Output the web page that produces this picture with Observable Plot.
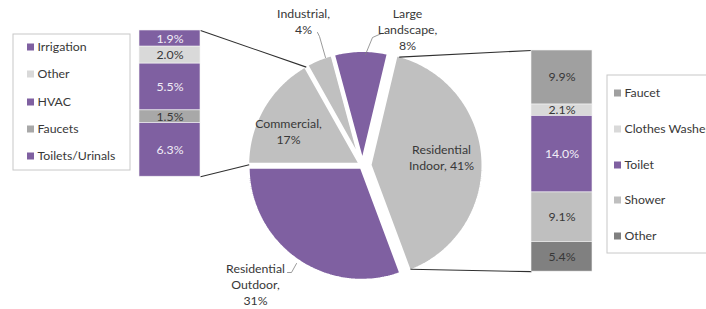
<!DOCTYPE html>
<html><head><meta charset="utf-8">
<script src="https://cdn.jsdelivr.net/npm/d3@7"></script>
<script src="https://cdn.jsdelivr.net/npm/@observablehq/plot@0.6"></script>
<style>body{margin:0;background:#fff;} svg{display:block;}</style>
</head><body><div id="chart"></div>
<script>
// ---- data ----
const pieNames = ["Residential Indoor", "Residential Outdoor", "Commercial", "Industrial", "Large Landscape"];
const pieValues = [41, 31, 17, 4, 8];
const pieLabelText = ["Residential\nIndoor, 41%", "Residential\nOutdoor,\n31%", "Commercial,\n17%", "Industrial,\n4%", "Large\nLandscape,\n8%"];

const commCats = ["Irrigation", "Other", "HVAC", "Faucets", "Toilets/Urinals"];
const commValues = [1.9, 2.0, 5.5, 1.5, 6.3];

const resCats = ["Faucet", "Clothes Washer", "Toilet", "Shower", "Other"];
const resValues = [9.9, 2.1, 14.0, 9.1, 5.4];

// ---- styles ----
const PURPLE = "#7f60a1";
const pieColors = ["#c0c0c0", PURPLE, "#c0c0c0", "#c0c0c0", PURPLE];
const commColors = [PURPLE, "#d9d9d9", PURPLE, "#a8a8a8", PURPLE];
const resColors = ["#a0a0a0", "#d9d9d9", PURPLE, "#bfbfbf", "#808080"];
const TEXT = "#383838";
const LIGHTTEXT = "#f2eef7";
const FONT = "Lato, 'Liberation Sans', sans-serif";
const FS = 12.3;

// ---- layout ----
const W = 706, H = 309;
const cx = 362, cy = 165, R = 114, startDeg = 13.4;
const explode = [7, 1.5, 1.5, 1.5, 1.5];
const pieLabelPos = [[441, 149], [255, 268], [288, 123], [303, 13], [407, 13]];
const leaders = [
  [[296, 263], [291, 272], [287, 272]],
  [[325, 57], [319, 36], [317, 32]],
  [[365, 54], [372, 37], [381, 33]]
];
const commBar = {x1: 139, x2: 200, top: 30, k: 8.5};
const resBar = {x1: 531, x2: 592, top: 50, k: 5.46};
const commLegend = {x1: 13, x2: 130, y1: 34, y2: 170, sx: 27, ys: [47, 74, 102, 129, 156]};
const resLegend = {x1: 607, x2: 720, y1: 75, y2: 253, sx: 614, ys: [93, 129, 165, 200, 236]};

// ---- pie geometry from data ----
const total = d3.sum(pieValues);
const rad = d => d * Math.PI / 180;
const pt = (a, r, ox, oy) => ({x: cx + ox + r * Math.sin(rad(a)), y: cy + oy - r * Math.cos(rad(a))});
let acc = 0;
const slices = pieValues.map((v, i) => {
  const a0 = startDeg + acc / total * 360; acc += v;
  const a1 = startDeg + acc / total * 360;
  const am = (a0 + a1) / 2;
  const ox = explode[i] * Math.sin(rad(am)), oy = -explode[i] * Math.cos(rad(am));
  return {name: pieNames[i], a0, a1, ox, oy, color: pieColors[i]};
});
const piePts = [];
for (const s of slices) {
  piePts.push({name: s.name, color: s.color, x: cx + s.ox, y: cy + s.oy});
  const n = Math.max(4, Math.ceil(s.a1 - s.a0));
  for (let j = 0; j <= n; j++) {
    const p = pt(s.a0 + (s.a1 - s.a0) * j / n, R, s.ox, s.oy);
    piePts.push({name: s.name, color: s.color, x: p.x, y: p.y});
  }
}

// ---- bars ----
function stackBar(cats, vals, cols, b) {
  let y = b.top;
  return vals.map((v, i) => {
    const y1 = y; y += v * b.k;
    return {cat: cats[i], v, x1: b.x1, x2: b.x2, y1, y2: y, fill: cols[i], tf: cols[i] === PURPLE ? LIGHTTEXT : TEXT};
  });
}
const bars = [...stackBar(commCats, commValues, commColors, commBar), ...stackBar(resCats, resValues, resColors, resBar)];
const cb = bars.slice(0, 5), rb = bars.slice(5);

// ---- connectors ----
const com = slices[2], ind = slices[0];
const pComTop = pt(com.a1, R - 2, com.ox, com.oy);
const pComBot = pt(com.a0, R - 2, com.ox, com.oy);
const pIndTop = pt(ind.a0 + 2, R - 2, ind.ox, ind.oy);
const pIndBot = pt(ind.a1 - 1, R - 2, ind.ox, ind.oy);
const connectors = [
  {x1: commBar.x2, y1: cb[0].y1, x2: pComTop.x, y2: pComTop.y},
  {x1: commBar.x2, y1: cb[4].y2, x2: pComBot.x, y2: pComBot.y},
  {x1: resBar.x1, y1: rb[0].y1, x2: pIndTop.x, y2: pIndTop.y},
  {x1: resBar.x1, y1: rb[4].y2, x2: pIndBot.x, y2: pIndBot.y}
];

// ---- legends ----
const legendItems = [
  ...commCats.map((c, i) => ({label: c, color: commColors[i], x: commLegend.sx, y: commLegend.ys[i]})),
  ...resCats.map((c, i) => ({label: c, color: resColors[i], x: resLegend.sx, y: resLegend.ys[i]}))
];
const legendBoxes = [commLegend, resLegend];

const leaderPts = leaders.flatMap((l, i) => l.map(p => ({id: i, x: p[0], y: p[1]})));
const pieLabels = pieLabelText.map((t, i) => ({t, x: pieLabelPos[i][0], y: pieLabelPos[i][1]}));

const chart = Plot.plot({
  width: W, height: H,
  margin: 0,
  x: {domain: [0, W], range: [0, W], axis: null},
  y: {domain: [0, H], range: [0, H], axis: null},
  color: {type: "identity"},
  style: {fontFamily: FONT, background: "#fff"},
  marks: [
    Plot.line(piePts, {x: "x", y: "y", z: "name", fill: "color", stroke: "white", strokeWidth: 4, strokeLinejoin: "miter", curve: "linear-closed"}),
    Plot.link(connectors, {x1: "x1", y1: "y1", x2: "x2", y2: "y2", stroke: "#303030", strokeWidth: 1.1}),
    Plot.line(leaderPts, {x: "x", y: "y", z: "id", stroke: "#808080", strokeWidth: 0.8}),
    Plot.rect(bars, {x1: "x1", x2: "x2", y1: "y1", y2: "y2", fill: "fill", stroke: "#f4f4f4", strokeWidth: 0.6}),
    Plot.text(bars, {x: d => (d.x1 + d.x2) / 2, y: d => (d.y1 + d.y2) / 2, text: d => d.v.toFixed(1) + "%", fill: "tf", fontSize: FS}),
    Plot.text(pieLabels, {x: "x", y: "y", text: "t", fill: TEXT, fontSize: FS, lineAnchor: "top", dy: -7, lineHeight: 1.3}),
    Plot.rect(legendBoxes, {x1: "x1", x2: "x2", y1: "y1", y2: "y2", fill: "white", stroke: "#c8c8c8", strokeWidth: 1}),
    Plot.rect(legendItems, {x1: "x", x2: d => d.x + 7, y1: d => d.y - 3.5, y2: d => d.y + 3.5, fill: "color"}),
    Plot.text(legendItems, {x: d => d.x + 10, y: "y", text: "label", textAnchor: "start", fill: TEXT, fontSize: FS})
  ]
});
document.getElementById("chart").appendChild(chart);
</script>
</body></html>
